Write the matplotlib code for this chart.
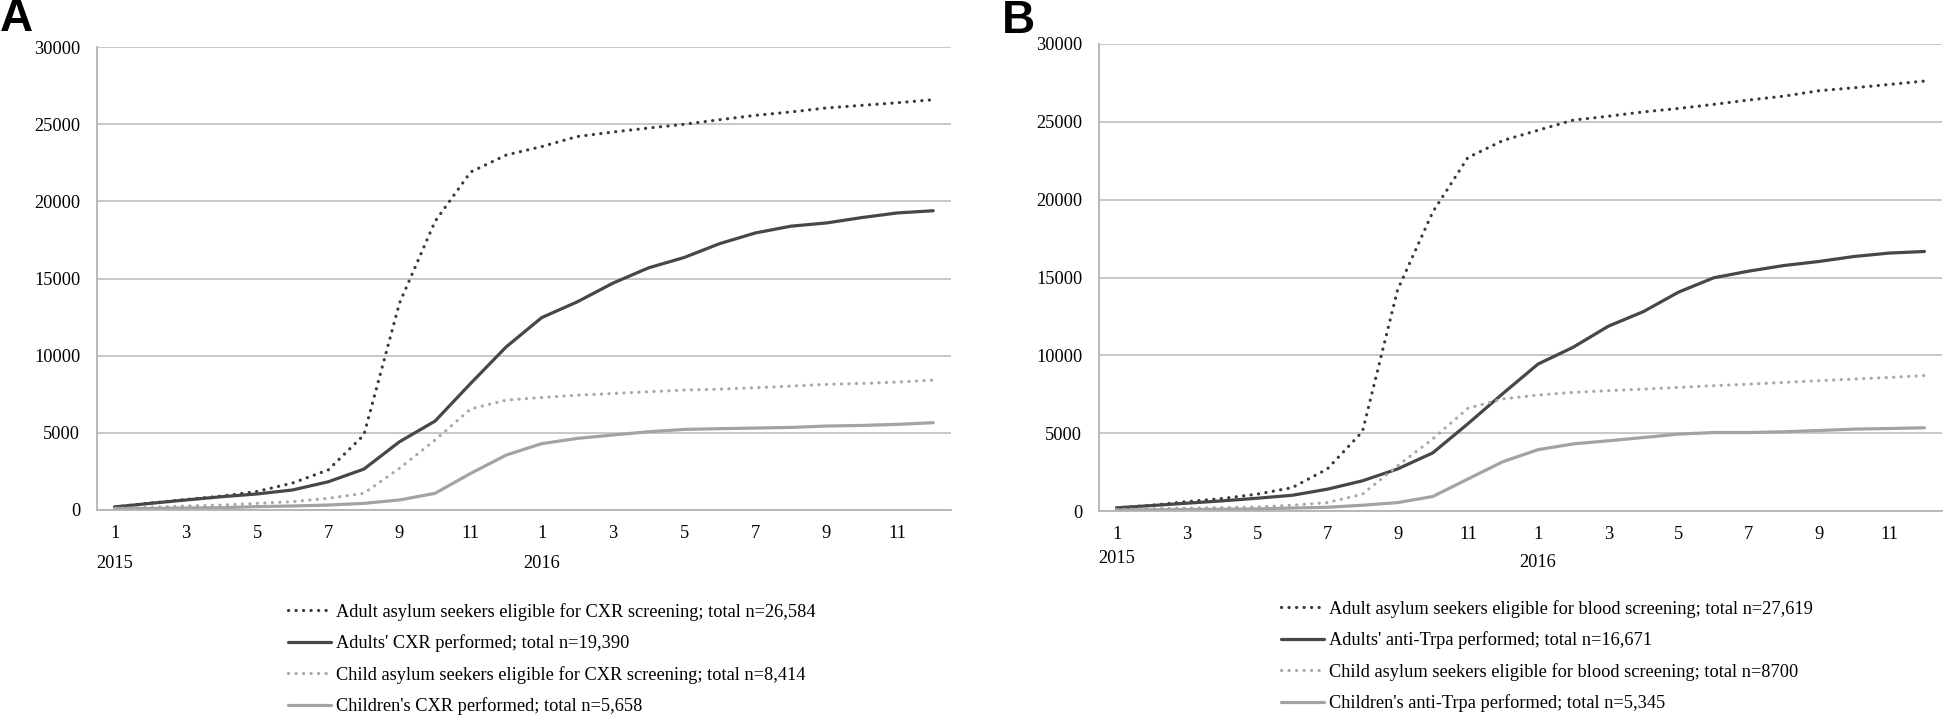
import matplotlib
matplotlib.use("Agg")
import matplotlib.pyplot as plt
from matplotlib.transforms import blended_transform_factory

# ---------------- data ----------------
months = list(range(1, 25))
tick_months = months[::2]
tick_labels = ["1", "3", "5", "7", "9", "11", "1", "3", "5", "7", "9", "11"]
years = ["2015", "2016"]

adult_elig_A = [200, 450, 680, 900, 1200, 1750, 2600, 4860, 13400, 18700, 21900, 23000,
                23550, 24200, 24490, 24750, 24990, 25290, 25570, 25790, 26050, 26220, 26390, 26584]
adult_cxr_A = [200, 430, 650, 860, 1040, 1300, 1830, 2650, 4420, 5760, 8200, 10570,
               12470, 13490, 14700, 15690, 16360, 17260, 17950, 18390, 18600, 18950, 19250, 19390]
child_elig_A = [100, 170, 260, 320, 430, 540, 760, 1080, 2700, 4530, 6550, 7120,
                7290, 7440, 7550, 7660, 7770, 7830, 7920, 8030, 8140, 8200, 8290, 8414]
child_cxr_A = [100, 100, 130, 150, 220, 260, 320, 430, 650, 1080, 2370, 3560,
               4300, 4640, 4860, 5070, 5220, 5270, 5310, 5350, 5440, 5480, 5550, 5658]

adult_elig_B = [200, 370, 600, 800, 1080, 1500, 2700, 5100, 14200, 19200, 22700, 23800,
                24460, 25110, 25360, 25640, 25860, 26120, 26400, 26650, 27000, 27190, 27400, 27619]
adult_trpa_B = [200, 350, 500, 650, 820, 1010, 1400, 1940, 2700, 3730, 5600, 7550,
                9440, 10520, 11870, 12810, 14060, 14980, 15410, 15770, 16030, 16350, 16570, 16671]
child_elig_B = [100, 150, 190, 215, 260, 370, 540, 1080, 2900, 4630, 6600, 7200,
                7450, 7620, 7730, 7830, 7940, 8050, 8150, 8260, 8370, 8480, 8580, 8700]
child_trpa_B = [60, 70, 90, 110, 130, 190, 240, 370, 540, 930, 2050, 3170,
                3940, 4310, 4510, 4720, 4940, 5040, 5040, 5090, 5170, 5260, 5300, 5345]

labels_A = ["Adult asylum seekers eligible for CXR screening; total n=26,584",
            "Adults' CXR performed; total n=19,390",
            "Child asylum seekers eligible for CXR screening; total n=8,414",
            "Children's CXR performed; total n=5,658"]
labels_B = ["Adult asylum seekers eligible for blood screening; total n=27,619",
            "Adults' anti-Trpa performed; total n=16,671",
            "Child asylum seekers eligible for blood screening; total n=8700",
            "Children's anti-Trpa performed; total n=5,345"]

yticks = [0, 5000, 10000, 15000, 20000, 25000, 30000]

# ---------------- style ----------------
W, H = 1946, 716
fig = plt.figure(figsize=(W / 100, H / 100), dpi=100)
SERIF = ["Liberation Serif", "DejaVu Serif"]
FS = 13.2

DARK = "#474747"
DARK_DOT = "#3a3a3a"
LIGHT = "#a3a3a3"
LIGHT_DOT = "#a8a8a8"
GRID = "#c4c4c4"
DOT = (0, (0.05, 2.3))

styles = [
    dict(color=DARK_DOT, lw=2.3, linestyle=DOT, dash_capstyle="round"),
    dict(color=DARK, lw=2.3, linestyle="-", solid_capstyle="round"),
    dict(color=LIGHT_DOT, lw=2.3, linestyle=DOT, dash_capstyle="round"),
    dict(color=LIGHT, lw=2.3, linestyle="-", solid_capstyle="round"),
]


def px_rect(l, r, t, b):
    return [l / W, 1 - b / H, (r - l) / W, (b - t) / H]


def make_panel(rect, series, labels, year_y, legend_xy, letter, letter_xy):
    ax = fig.add_axes(rect)
    lines = []
    for s, st, lab in zip(series, styles, labels):
        ln, = ax.plot(months, s, label=lab, **st)
        lines.append(ln)
    ax.set_xlim(0.5, 24.5)
    ax.set_ylim(0, 30000)
    ax.set_yticks(yticks)
    ax.set_yticklabels([str(v) for v in yticks], fontfamily=SERIF, fontsize=FS)
    ax.set_xticks(tick_months)
    ax.set_xticklabels(tick_labels, fontfamily=SERIF, fontsize=FS)
    ax.tick_params(axis="both", length=0)
    ax.tick_params(axis="y", pad=12)
    ax.tick_params(axis="x", pad=11)
    ax.grid(axis="y", color=GRID, lw=1.3)
    ax.set_axisbelow(True)
    for side in ["right", "top"]:
        ax.spines[side].set_visible(False)
    ax.spines["left"].set_color("#b3b3b3")
    ax.spines["bottom"].set_color("#b3b3b3")
    ax.spines["left"].set_linewidth(1.3)
    ax.spines["bottom"].set_linewidth(1.3)
    tr = blended_transform_factory(ax.transData, ax.transAxes)
    ax.text(1, year_y[0], years[0], transform=tr, ha="center", va="center",
            fontfamily=SERIF, fontsize=FS)
    ax.text(13, year_y[1], years[1], transform=tr, ha="center", va="center",
            fontfamily=SERIF, fontsize=FS)
    fig.legend(handles=lines, labels=labels, loc="upper left",
               bbox_to_anchor=(legend_xy[0] / W, 1 - legend_xy[1] / H),
               frameon=False, borderpad=0, borderaxespad=0,
               handlelength=2.35, handletextpad=0.27, labelspacing=0.74,
               prop=dict(family=SERIF, size=FS))
    fig.text(letter_xy[0] / W, 1 - letter_xy[1] / H, letter, ha="left", va="top",
             fontfamily="Liberation Sans", fontweight="bold", fontsize=33)
    return ax


make_panel(px_rect(97, 951, 47, 510),
           [adult_elig_A, adult_cxr_A, child_elig_A, child_cxr_A], labels_A,
           (-0.1145, -0.1145), (288, 603), "A", (0, -3))
make_panel(px_rect(1099, 1942, 44, 511),
           [adult_elig_B, adult_trpa_B, child_elig_B, child_trpa_B], labels_B,
           (-0.101, -0.111), (1281, 600), "B", (1002, -1))

fig.savefig("out.png", dpi=100)
